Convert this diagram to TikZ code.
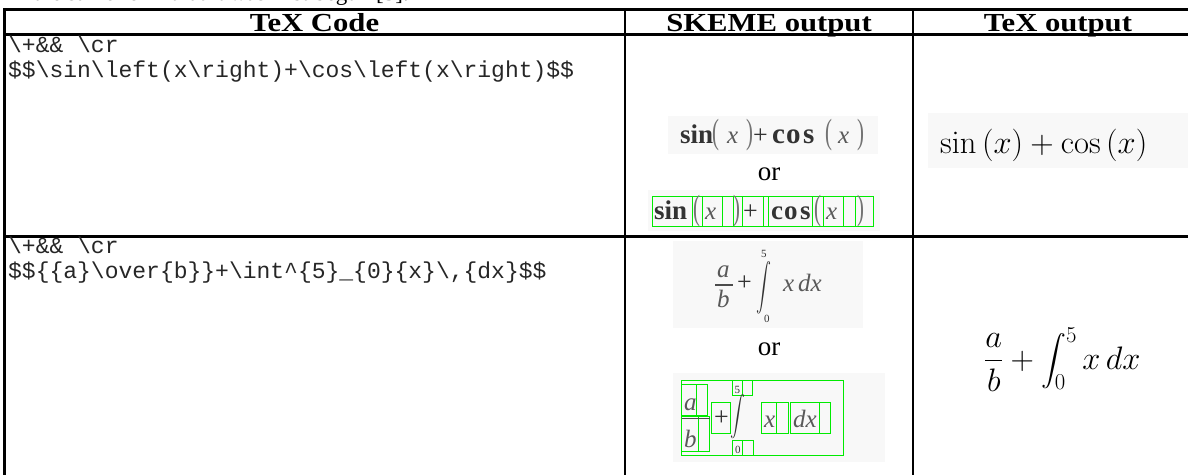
\RequirePackage{fix-cm}
\documentclass[tikz,border=0pt]{standalone}
\usepackage{exscale}
\usepackage[no-math]{fontspec}
\setmainfont{Liberation Serif}
\setmonofont{Liberation Mono}
\usepackage{graphicx}
\definecolor{boxgreen}{RGB}{0,235,0}
\definecolor{imgbg}{RGB}{248,248,248}
\newcommand\stretchx[1]{\scalebox{1.18}[1]{#1}}
\newcommand\tallparen[1]{\scalebox{0.8}[1.35]{#1}}
\newcommand\bs{\textbackslash}

\tikzset{
  rule/.style={line width=2.2pt, line cap=rect},
  hdr/.style={font=\fontsize{26}{26}\selectfont\bfseries, anchor=base, inner sep=0pt},
  code/.style={font=\fontsize{23}{25}\selectfont\ttfamily, text=black!85, anchor=base west, inner sep=0pt},
  sk/.style={font=\fontsize{26}{26}\selectfont, text=black!80, anchor=base west, inner sep=0pt},
  skb/.style={sk, font=\fontsize{27}{27}\selectfont\bfseries},
  skc/.style={sk, font=\fontsize{29}{29}\selectfont\bfseries},
  ski/.style={sk, font=\fontsize{25}{25}\selectfont\itshape, text=black!65},
  sksmall/.style={sk, font=\fontsize{11}{11}\selectfont},
  skp/.style={sk, text=black!55},
  orword/.style={font=\fontsize{27}{27}\selectfont, anchor=base, inner sep=0pt},
  gbox/.style={draw=boxgreen, line width=1pt},
  fracbar/.style={draw=black!70, line width=1.3pt},
  texout/.style={font=\fontsize{32.5}{32.5}\selectfont, anchor=base west, inner sep=0pt},
}

\begin{document}
\begin{tikzpicture}[x=1pt,y=-1pt]
\useasboundingbox (0,0) rectangle (1188,474);

% last line of the paragraph above the table (cut by the page edge)
\node[anchor=base west, font=\fontsize{23}{23}\selectfont, inner sep=0pt] (lead) at (10,0.5)
  {in the same form that it was first begun [5].};

% faint backgrounds of the pasted formula images
\fill[imgbg] (668,116) rectangle (878,154);
\fill[imgbg] (648,190) rectangle (880,231);
\fill[imgbg] (673,241) rectangle (863,328);
\fill[imgbg] (673,373) rectangle (885,462);
\fill[imgbg] (928,113) rectangle (1188,168);

% table rules
\draw[rule] (4.5,474) -- (4.5,9.5) -- (1188,9.5);
\draw[rule] (4.5,34.5) -- (1188,34.5);
\draw[rule] (4.5,236.5) -- (1188,236.5);
\draw[rule] (625,9.5) -- (625,474);
\draw[rule] (913,9.5) -- (913,474);

% header
\node[hdr] (hcode)  at (314.5,31) {\stretchx{TeX Code}};
\node[hdr] (hskeme) at (769,31)   {\stretchx{SKEME output}};
\node[hdr] (htex)   at (1058,31)  {\stretchx{TeX output}};

% TeX source
\node[code] (c1a) at (8,52) {\bs+\&\& \bs cr};
\node[code] (c1b) at (8,77) {\$\$\bs sin\bs left(x\bs right)+\bs cos\bs left(x\bs right)\$\$};
\node[code] (c2a) at (8,253) {\bs+\&\& \bs cr};
\node[code] (c2b) at (8,278) {\$\$\{\{a\}\bs over\{b\}\}+\bs int\textasciicircum\{5\}\_\{0\}\{x\}\bs,\{dx\}\$\$};

% ---- SKEME output, row 1 ----
\node[skb] (s1sin) at (680,143) {sin};
\node[skp] (s1p1) at (712,143) {\tallparen{(}};
\node[ski] (s1x1) at (727,143) {x};
\node[skp] (s1p2) at (746,143) {\tallparen{)}};
\node[sk]  (s1pl) at (753,143) {+};
\node[skc] (s1c) at (772,143) {c};
\node[skc] (s1o) at (786,143) {o};
\node[skc] (s1s) at (803,143) {s};
\node[skp] (s1p3) at (825,143) {\tallparen{(}};
\node[ski] (s1x2) at (838,143) {x};
\node[skp] (s1p4) at (857,143) {\tallparen{)}};

\node[orword] (or1) at (769,180) {or};

\draw[gbox] (652,196) rectangle (873,226);
\foreach \xv in {692,702,722,733,742,763,768,812,823,843,855}
  \draw[gbox] (\xv,196) -- (\xv,226);
\node[skb] (b1sin) at (654,219) {sin};
\node[skp] (b1p1) at (693,219) {\tallparen{(}};
\node[ski] (b1x1) at (705,219) {x};
\node[skp] (b1p2) at (733,219) {\tallparen{)}};
\node[sk]  (b1pl) at (743,219) {+};
\node[skb] (b1c) at (771,219) {c};
\node[skb] (b1o) at (784,219) {o};
\node[skb] (b1s) at (800,219) {s};
\node[skp] (b1p3) at (814,219) {\tallparen{(}};
\node[ski] (b1x2) at (826,219) {x};
\node[skp] (b1p4) at (857,219) {\tallparen{)}};

% ---- SKEME output, row 2 ----
\node[ski] (s2a) at (717,277) {a};
\draw[fracbar] (715,285) -- (733,285);
\node[ski] (s2b) at (717,307) {b};
\node[sk]  (s2pl) at (737,290) {+};
\node[sk, anchor=center] (s2int) at (764,288) {\scalebox{0.6}[0.95]{$\displaystyle\int$}};
\node[sksmall] (s2up) at (761,257) {5};
\node[sksmall] (s2lo) at (764,322) {0};
\node[ski] (s2x) at (783,291) {x};
\node[ski] (s2dx) at (798,291) {dx};

\node[orword] (or2) at (769,355) {or};

\draw[gbox] (681.7,380) rectangle (843.3,455);
\draw[gbox] (681.7,384) rectangle (707.3,415);
\draw[gbox] (696,384) -- (696,415);
\draw[gbox] (681.7,416.7) rectangle (709.3,451.7);
\draw[gbox] (698.3,416.7) -- (698.3,451.7);
\draw[fracbar] (681.7,418.3) -- (710,418.3);
\draw[gbox] (711.7,402.7) rectangle (730.7,433.3);
\draw[gbox] (732.7,380) rectangle (752.7,395);
\draw[gbox] (742.7,380) -- (742.7,395);
\draw[gbox] (732.7,440) rectangle (753.3,455);
\draw[gbox] (742.7,440) -- (742.7,455);
\draw[gbox] (761.7,402.7) rectangle (788.3,433.3);
\draw[gbox] (776.7,402.7) -- (776.7,433.3);
\draw[gbox] (790.7,402.7) rectangle (830.7,433.3);
\draw[gbox] (819.3,402.7) -- (819.3,433.3);
\node[ski] (b2a) at (684,410) {a};
\node[ski] (b2b) at (684,447) {b};
\node[sk]  (b2pl) at (714,425) {+};
\node[sk, anchor=center] (b2int) at (738,417) {\scalebox{0.6}[0.8]{$\displaystyle\int$}};
\node[sksmall] (b2up) at (734.5,393.5) {5};
\node[sksmall] (b2lo) at (735,453.5) {0};
\node[ski] (b2x) at (764,427) {x};
\node[ski] (b2dx) at (793,427) {dx};

% ---- TeX output ----
\node[texout] (t1) at (940,153) {$\sin\left(x\right)+\cos\left(x\right)$};
\node[texout] (t2) at (984,369) {$\displaystyle\frac{a}{b}+\int_0^5 x\,dx$};
\end{tikzpicture}
\end{document}
